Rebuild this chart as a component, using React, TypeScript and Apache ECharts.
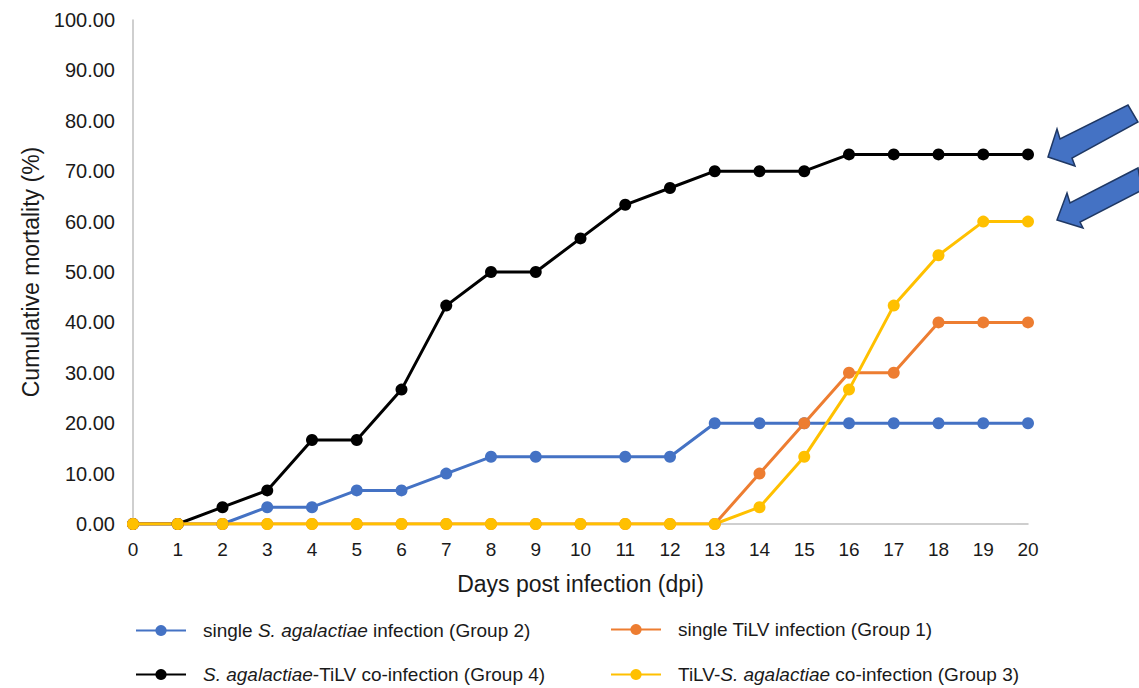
import React, { useEffect, useRef } from "react";
import * as echarts from "echarts";

const days = ["0","1","2","3","4","5","6","7","8","9","10","11","12","13","14","15","16","17","18","19","20"];
const group2 = [0,0,0,3.33,3.33,6.67,6.67,10,13.33,13.33,null,13.33,13.33,20,20,20,20,20,20,20,20];
const group4 = [0,0,3.33,6.67,16.67,16.67,26.67,43.33,50,50,56.67,63.33,66.67,70,70,70,73.33,73.33,73.33,73.33,73.33];
const group1 = [0,0,0,0,0,0,0,0,0,0,0,0,0,0,10,20,30,30,40,40,40];
const group3 = [0,0,0,0,0,0,0,0,0,0,0,0,0,0,3.33,13.33,26.67,43.33,53.33,60,60];

const names = {
  g2: "single S. agalactiae infection (Group 2)",
  g1: "single TiLV infection (Group 1)",
  g4: "S. agalactiae-TiLV co-infection (Group 4)",
  g3: "TiLV-S. agalactiae co-infection (Group 3)",
};
const richNames: Record<string, string> = {
  [names.g2]: "{n|single }{i|S. agalactiae}{n| infection (Group 2)}",
  [names.g1]: "{n|single TiLV infection (Group 1)}",
  [names.g4]: "{i|S. agalactiae}{n|-TiLV co-infection (Group 4)}",
  [names.g3]: "{n|TiLV-}{i|S. agalactiae}{n| co-infection (Group 3)}",
};

const FONT = "Liberation Sans, Arial, sans-serif";
const TXT = "#1a1a1a";

export default function App() {
  const ref = useRef<HTMLDivElement>(null);
  useEffect(() => {
    if (!ref.current) return;
    const chart = echarts.init(ref.current, undefined, { renderer: "svg" });
    const mkLegend = (name: string, left: number, top: number) => ({
      data: [name],
      left,
      top,
      orient: "horizontal",
      itemWidth: 50,
      itemHeight: 14,
      padding: 0,
      formatter: (n: string) => richNames[n],
      textStyle: {
        fontFamily: FONT,
        fontSize: 19,
        color: TXT,
        padding: [0, 0, 0, 12],
        rich: {
          n: { fontFamily: FONT, fontSize: 19, color: TXT },
          i: { fontFamily: FONT, fontSize: 19, color: TXT, fontStyle: "italic" },
        },
      },
    });
    const mkSeries = (name: string, data: (number | null)[], color: string) => ({
      name,
      type: "line",
      data,
      connectNulls: true,
      symbol: "circle",
      symbolSize: 12,
      lineStyle: { color, width: 3 },
      itemStyle: { color },
    });
    const arrowStyle = { fill: "#4472C4", stroke: "#1F3864", lineWidth: 1.5 };
    chart.setOption({
      animation: false,
      backgroundColor: "#ffffff",
      grid: { left: 133, right: 111, top: 20, bottom: 164 },
      xAxis: {
        type: "category",
        data: days,
        boundaryGap: false,
        name: "Days post infection (dpi)",
        nameLocation: "middle",
        nameGap: 48,
        nameTextStyle: { fontFamily: FONT, fontSize: 23, color: TXT },
        axisLine: { lineStyle: { color: "#BFBFBF", width: 1.5 } },
        axisTick: { show: false },
        axisLabel: { fontFamily: FONT, fontSize: 19, color: TXT, margin: 16 },
        splitLine: { show: false },
      },
      yAxis: {
        type: "value",
        min: 0,
        max: 100,
        interval: 10,
        name: "Cumulative mortality (%)",
        nameLocation: "middle",
        nameGap: 90,
        nameTextStyle: { fontFamily: FONT, fontSize: 23, color: TXT },
        axisLine: { show: true, lineStyle: { color: "#BFBFBF", width: 1.5 } },
        axisTick: { show: false },
        splitLine: { show: false },
        axisLabel: {
          fontFamily: FONT,
          fontSize: 20,
          color: TXT,
          margin: 18,
          formatter: (v: number) => v.toFixed(2),
        },
      },
      legend: [
        mkLegend(names.g2, 135, 621),
        mkLegend(names.g1, 610, 620),
        mkLegend(names.g4, 135, 665),
        mkLegend(names.g3, 610, 665),
      ],
      series: [
        mkSeries(names.g2, group2, "#4472C4"),
        mkSeries(names.g4, group4, "#000000"),
        mkSeries(names.g1, group1, "#ED7D31"),
        mkSeries(names.g3, group3, "#FFC000"),
      ],
      graphic: [
        {
          type: "polygon",
          shape: {
            points: [
              [1048, 157], [1057, 129], [1060, 139], [1128, 105],
              [1138, 122], [1072, 158], [1075, 166],
            ],
          },
          style: arrowStyle,
        },
        {
          type: "polygon",
          shape: {
            points: [
              [1057, 220], [1067, 193], [1070, 203], [1138, 168],
              [1142, 190], [1080, 222], [1083, 228],
            ],
          },
          style: arrowStyle,
        },
      ],
    });
    return () => chart.dispose();
  }, []);
  return (
    <div
      ref={ref}
      style={{ position: "absolute", left: 0, top: 0, width: 1139, height: 688 }}
    />
  );
}
